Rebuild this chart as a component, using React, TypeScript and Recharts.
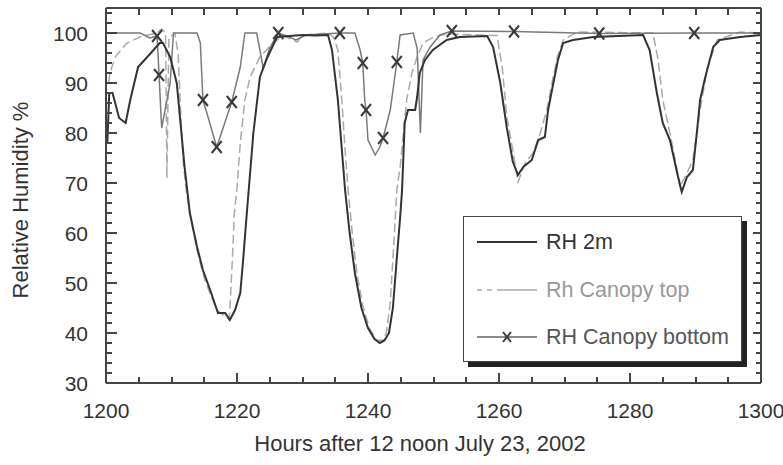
import { LineChart, Line, XAxis, YAxis, Legend } from 'recharts';

// RH 2m (dark solid)
const rh2mHours = [
  1200.2, 1200.5, 1201, 1202, 1203, 1203.7, 1204.9, 1206.3, 1208.2, 1208.7, 1209.8, 1210.8,
  1212, 1212.8, 1213.9, 1214.8, 1215.9, 1217.1, 1218.2, 1218.9, 1219.7, 1220.5, 1220.9, 1221.5,
  1222, 1222.5, 1223.5, 1224.6, 1226.1, 1228, 1230, 1232, 1233.9, 1234.5, 1235.4, 1236.5,
  1237.2, 1238, 1239, 1240, 1241, 1241.8, 1242.5, 1243.2, 1243.8, 1244.4, 1244.9, 1245.2,
  1245.6, 1246.1, 1247.2, 1247.5, 1247.9, 1248.7, 1249.9, 1252, 1254, 1258.2, 1259.1, 1260.2,
  1261.2, 1262.1, 1262.9, 1263.7, 1265, 1266, 1267, 1267.5, 1268.3, 1269, 1269.8, 1271.3,
  1274.4, 1282, 1283, 1284.1, 1285, 1286.1, 1287.2, 1287.9, 1288.7, 1289.6, 1290.2, 1290.7,
  1291.5, 1292.7, 1293.7, 1296.8, 1300,
];
const rh2mValues = [
  78, 88, 88, 83, 82, 86.6, 93.2, 95.2, 98, 98, 95.2, 90,
  73.2, 64, 57.2, 52.6, 48.6, 44, 44, 42.6, 44.6, 48, 54, 64,
  72, 80, 91.2, 95, 99.2, 99.4, 99.6, 99.5, 99.6, 96.6, 86.6, 68.6,
  60, 52, 45, 41, 38.8, 38, 38.5, 40, 45, 55, 63, 68.6,
  82, 84.6, 84.6, 87.2, 92, 94.6, 96.6, 98.6, 99.2, 99.4, 97.2, 90,
  81, 74.3, 71.6, 73.2, 74.6, 78.6, 79.2, 84.6, 90, 94.6, 98, 98.6,
  99.2, 99.6, 96.6, 88, 82, 78.6, 72, 68.2, 71.2, 72.6, 80, 86.6,
  91.2, 97.2, 98.6, 99.2, 99.6,
];

// Rh Canopy top (light dashed)
const topHours = [
  1200.4, 1200.6, 1201.4, 1203.2, 1205.2, 1206.4, 1207.8, 1208.5, 1209.1, 1209.3, 1209.6, 1210.5,
  1211, 1211.4, 1211.8, 1212.3, 1213, 1214, 1215, 1216, 1217, 1218, 1218.8, 1219,
  1219.3, 1219.6, 1220, 1220.5, 1221.2, 1222, 1223.5, 1225.5, 1227, 1229.2, 1230, 1234,
  1234.8, 1235.4, 1236, 1236.5, 1237, 1237.6, 1238.3, 1239.2, 1240.2, 1241.3, 1242.2, 1242.8,
  1243.4, 1243.9, 1244.4, 1244.9, 1245.9, 1246.7, 1247.5, 1248.4, 1250, 1252, 1259.7, 1260.5,
  1261.2, 1262.1, 1262.9, 1264, 1265.2, 1266.3, 1267.3, 1268.1, 1268.9, 1269.8, 1271.9, 1283.5,
  1284.3, 1285, 1286.1, 1287.2, 1287.6, 1288.7, 1289.6, 1290.7, 1291.8, 1293.3, 1296.8, 1300,
];
const topValues = [
  90, 92, 95.2, 98, 99.2, 99.6, 100, 100.8, 100, 71, 99, 100,
  96, 84, 74, 68, 62.5, 56, 51, 47.5, 44.5, 43.5, 42.8, 47,
  55, 64, 69, 78, 86.6, 91.2, 95.2, 98, 99.5, 98.2, 99.6, 100,
  99, 96.6, 86.6, 76.6, 68, 60, 52, 45.5, 41, 38.5, 38.6, 40,
  46, 57, 68.6, 73.2, 86.6, 92, 95.2, 98, 99.2, 99.8, 99.5, 93,
  83.2, 76.6, 70.2, 74, 76, 80, 84.6, 90, 95.2, 98.6, 100.2, 100,
  94.6, 86.6, 80, 72.6, 69.2, 72, 74.6, 84.6, 93, 98.6, 100.2, 100,
];

// RH Canopy bottom (grey solid with x markers)
const bottomHours = [
  1200.4, 1205.2, 1206.7, 1207.8, 1208.1, 1208.5, 1209.8, 1210.3, 1213.9, 1214.4, 1214.8, 1215.4,
  1216.9, 1219.2, 1220.5, 1221.2, 1223, 1223.5, 1224, 1225, 1226.3, 1228, 1229, 1230.5,
  1235.7, 1238, 1238.8, 1239.2, 1239.5, 1239.7, 1240, 1241.1, 1241.8, 1242.3, 1243.4, 1244.4,
  1244.9, 1246.9, 1247.5, 1248, 1248.4, 1249.5, 1251, 1252.8, 1262.3, 1275.3, 1289.8, 1300,
];
const bottomValues = [
  100, 100, 99, 99.4, 91.6, 81, 90, 100, 100, 98, 86.6, 84,
  77.2, 86.2, 93.2, 100, 100, 96.6, 93, 97, 100, 99.2, 98.6, 99.6,
  100, 100, 96.6, 94, 86.6, 84.6, 78.6, 75.6, 77.2, 79, 84.6, 94.2,
  99.6, 100, 97, 80, 94.6, 97.2, 99.6, 100.4, 100.3, 99.9, 100, 100,
];
const bottomMarkerHours = [
  1207.8, 1208.1, 1214.8, 1216.9, 1219.2, 1226.3, 1235.7, 1239.2, 1239.7, 1242.3, 1244.4,
  1252.8, 1262.3, 1275.3, 1289.8,
];

const xLabels = [1200, 1220, 1240, 1260, 1280, 1300];
const yLabels = [30, 40, 50, 60, 70, 80, 90, 100];

const seriesNames = ['RH 2m', 'Rh Canopy top', 'RH Canopy bottom'];

const X_MIN = 1200;
const X_MAX = 1300;
const Y_MIN = 30;
const Y_MAX = 105;

const zip = (xs: number[], ys: number[]) => xs.map((x, i) => ({ x, y: ys[i] }));
const rh2mData = zip(rh2mHours, rh2mValues);
const topData = zip(topHours, topValues);
const bottomData = zip(bottomHours, bottomValues);
const markerSet = new Set(bottomMarkerHours);

const xMinor: number[] = [];
for (let v = X_MIN; v <= X_MAX; v += 5) xMinor.push(v);
const yMinor: number[] = [];
for (let v = Y_MIN; v <= 104; v += 2) yMinor.push(v);

const AXIS = '#444';
const TEXT = '#333';
const FONT = 'Arial, "Liberation Sans", sans-serif';
const axisLineStyle = { stroke: AXIS, strokeWidth: 2 };

// plot box (from the chart margins and axis sizes below)
const PLOT = { left: 106, top: 8, width: 655, height: 375 };
const toPx = (v: number) => PLOT.left + ((v - X_MIN) / (X_MAX - X_MIN)) * PLOT.width;
const toPy = (v: number) => PLOT.top + ((Y_MAX - v) / (Y_MAX - Y_MIN)) * PLOT.height;

const BottomTick = ({ x, y, payload }: any) => {
  const v = payload.value;
  if (!xLabels.includes(v)) return <g />;
  return (
    <text x={x} y={y + 35} textAnchor="middle" fontSize={21} fontFamily={FONT} fill={TEXT}>
      {v}
    </text>
  );
};

const LeftTick = ({ x, y, payload }: any) => {
  const v = payload.value;
  if (!yLabels.includes(v)) return <g />;
  return (
    <text x={x - 18} y={y + 7.5} textAnchor="end" fontSize={21} fontFamily={FONT} fill={TEXT}>
      {v}
    </text>
  );
};

const XMark = (props: any) => {
  const { cx, cy, payload, index } = props;
  if (!markerSet.has(payload.x)) return <g key={`d${index}`} />;
  return (
    <g key={`d${index}`} stroke="#3a3a3a" strokeWidth={2}>
      <line x1={cx - 5} x2={cx + 5} y1={cy - 6} y2={cy + 6} />
      <line x1={cx - 5} x2={cx + 5} y1={cy + 6} y2={cy - 6} />
    </g>
  );
};

const LegendBox = () => (
  <div
    style={{
      width: 279,
      height: 146,
      boxSizing: 'border-box',
      border: `1.5px solid ${AXIS}`,
      background: '#fff',
      boxShadow: '5px 5px 0 #222',
    }}
  >
    <svg width={276} height={143}>
      <line x1={13} x2={73} y1={25} y2={25} stroke="#333" strokeWidth={2} />
      <text x={82} y={32} fontSize={21.5} fontFamily={FONT} fill="#333">{seriesNames[0]}</text>
      <line x1={13} x2={73} y1={73} y2={73} stroke="#aaa" strokeWidth={1.5} strokeDasharray="5 5 5 5 60" />
      <text x={82} y={80} fontSize={21.5} fontFamily={FONT} fill="#999">{seriesNames[1]}</text>
      <line x1={13} x2={73} y1={120} y2={120} stroke="#666" strokeWidth={1.5} />
      <g stroke="#3a3a3a" strokeWidth={2}>
        <line x1={39} x2={47} y1={115} y2={125} />
        <line x1={39} x2={47} y1={125} y2={115} />
      </g>
      <text x={82} y={127} fontSize={21.5} fontFamily={FONT} fill="#555">{seriesNames[2]}</text>
    </svg>
  </div>
);

// inward tick marks around the frame
const FrameTicks = () => {
  const bottom = PLOT.top + PLOT.height;
  const right = PLOT.left + PLOT.width;
  const mark = (key: string, left: number, top: number, w: number, h: number) => (
    <div key={key} style={{ position: 'absolute', left, top, width: w, height: h, background: AXIS }} />
  );
  return (
    <div style={{ position: 'absolute', left: 0, top: 0, width: 783, height: 465, pointerEvents: 'none' }}>
      {xMinor.map((v) => {
        const px = Math.round(toPx(v)) - 1;
        const len = xLabels.includes(v) ? 10 : 6;
        return [mark(`b${v}`, px, bottom - len, 2, len), mark(`t${v}`, px, PLOT.top, 2, 7)];
      })}
      {yMinor.map((v) => {
        const py = Math.round(toPy(v)) - 1;
        const major = yLabels.includes(v);
        return [
          mark(`l${v}`, PLOT.left, py, major ? 11 : 6, 2),
          mark(`r${v}`, right - (major ? 8 : 5), py, major ? 8 : 5, 2),
        ];
      })}
    </div>
  );
};

export default function App() {
  return (
    <div style={{ position: 'absolute', left: 0, top: 0, width: 783, height: 465, background: '#fff' }}>
      <LineChart width={783} height={465} margin={{ top: 7, right: 21, bottom: 52, left: 46 }}>
        <XAxis
          dataKey="x"
          type="number"
          domain={[X_MIN, X_MAX]}
          ticks={xMinor}
          interval={0}
          height={30}
          tickSize={0}
          tickMargin={0}
          tickLine={false}
          axisLine={axisLineStyle}
          tick={BottomTick}
          label={() => (
            <text x={420} y={451} textAnchor="middle" fontSize={22} fontFamily={FONT} fill={TEXT}>
              Hours after 12 noon July 23, 2002
            </text>
          )}
        />
        <XAxis
          xAxisId="top"
          orientation="top"
          dataKey="x"
          type="number"
          domain={[X_MIN, X_MAX]}
          height={1}
          tickLine={false}
          axisLine={axisLineStyle}
          tick={false}
        />
        <YAxis
          type="number"
          domain={[Y_MIN, Y_MAX]}
          ticks={yMinor}
          interval={0}
          width={60}
          tickSize={0}
          tickMargin={0}
          tickLine={false}
          axisLine={axisLineStyle}
          tick={LeftTick}
          label={() => (
            <text
              x={28}
              y={200}
              transform="rotate(-90 28 200)"
              textAnchor="middle"
              fontSize={22}
              fontFamily={FONT}
              fill={TEXT}
            >
              Relative Humidity %
            </text>
          )}
        />
        <YAxis
          yAxisId="right"
          orientation="right"
          type="number"
          domain={[Y_MIN, Y_MAX]}
          width={1}
          tickLine={false}
          axisLine={axisLineStyle}
          tick={false}
        />
        <Line
          data={topData}
          dataKey="y"
          stroke="#aaa"
          strokeWidth={1.5}
          strokeDasharray="9 4"
          dot={false}
          activeDot={false}
          isAnimationActive={false}
        />
        <Line
          data={bottomData}
          dataKey="y"
          stroke="#7a7a7a"
          strokeWidth={1.5}
          dot={XMark}
          activeDot={false}
          isAnimationActive={false}
        />
        <Line
          data={rh2mData}
          dataKey="y"
          stroke="#333"
          strokeWidth={2}
          dot={false}
          activeDot={false}
          isAnimationActive={false}
        />
        <Legend
          layout="horizontal"
          verticalAlign="middle"
          align="center"
          content={LegendBox}
          wrapperStyle={{ left: 463, top: 216, width: 279, height: 146 }}
        />
      </LineChart>
      <FrameTicks />
    </div>
  );
}
